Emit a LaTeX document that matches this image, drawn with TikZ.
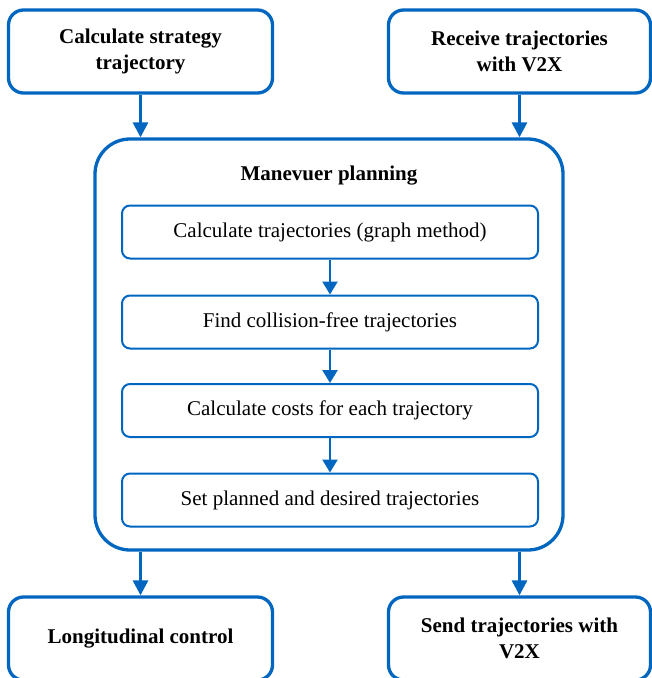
\documentclass[tikz,border=0pt]{standalone}
\usepackage{fontspec}
\setmainfont{Liberation Serif}
\usetikzlibrary{arrows.meta}
\definecolor{flowblue}{RGB}{0,102,192}
\tikzset{
  outerbox/.style={draw=flowblue, line width=3.3pt, rounded corners=15pt, minimum width=264pt, minimum height=83pt, align=center, font=\fontsize{21}{26}\selectfont\bfseries, inner sep=0pt},
  bigbox/.style={draw=flowblue, line width=3.3pt, rounded corners=35pt, minimum width=468pt, minimum height=411pt, inner sep=0pt},
  innerbox/.style={draw=flowblue, line width=2pt, rounded corners=8pt, minimum width=416pt, minimum height=53pt, align=center, font=\fontsize{21}{26}\selectfont, inner sep=0pt},
  bigarr/.style={draw=flowblue, line width=3pt, -{Triangle[length=15pt,width=15pt]}},
  smallarr/.style={draw=flowblue, line width=2.4pt, -{Triangle[length=13pt,width=15pt]}}
}
\begin{document}
\begin{tikzpicture}[x=1pt,y=-1pt]
\useasboundingbox (0,0) rectangle (652,678);
\begin{scope}
\clip (0,0) rectangle (652,678);
\node[outerbox] (tl) at (140.5,51.5) {Calculate strategy\\trajectory};
\node[outerbox, minimum width=262pt] (tr) at (519.5,51.5) {Receive trajectories\\with V2X};
\node[bigbox] (big) at (329,344.5) {};
\node[font=\fontsize{21}{26}\selectfont\bfseries] (title) at (329,176) {Manevuer planning};
\node[innerbox] (s1) at (330,232) {Calculate trajectories (graph method)};
\node[innerbox] (s2) at (330,322) {Find collision-free trajectories};
\node[innerbox] (s3) at (330,410.5) {Calculate costs for each trajectory};
\node[innerbox] (s4) at (330,500) {Set planned and desired trajectories};
\node[outerbox] (bl) at (140.5,638.5) {Longitudinal control};
\node[outerbox, minimum width=262pt] (br) at (519.5,638.5) {Send trajectories with\\V2X};
\draw[bigarr] (tl.south) -- (tl.south |- big.north);
\draw[bigarr] (tr.south) -- (tr.south |- big.north);
\draw[bigarr] (bl.north |- big.south) -- (bl.north);
\draw[bigarr] (br.north |- big.south) -- (br.north);
\draw[smallarr] (s1.south) -- (s2.north);
\draw[smallarr] (s2.south) -- (s3.north);
\draw[smallarr] (s3.south) -- (s4.north);
\end{scope}
\end{tikzpicture}
\end{document}
